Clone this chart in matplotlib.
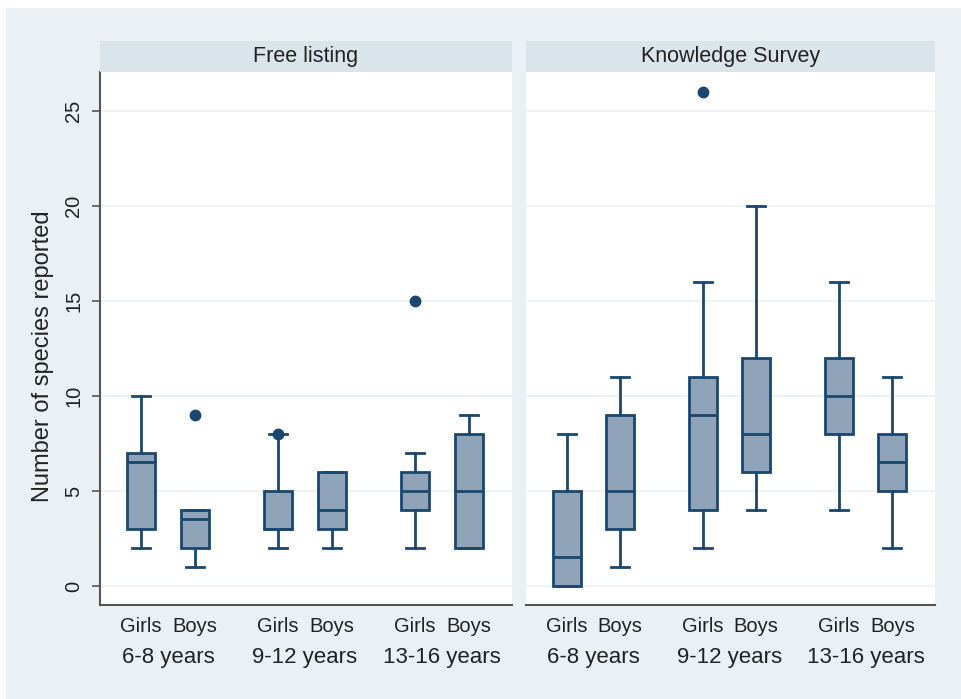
import matplotlib
matplotlib.use("Agg")
import matplotlib.pyplot as plt
from matplotlib.patches import Rectangle
from matplotlib.transforms import blended_transform_factory

plt.rcParams['font.family'] = ['Liberation Sans', 'DejaVu Sans']

panels = ["Free listing", "Knowledge Survey"]
age_groups = ["6-8 years", "9-12 years", "13-16 years"]
sexes = ["Girls", "Boys"]

# Order per panel: Girls 6-8, Boys 6-8, Girls 9-12, Boys 9-12, Girls 13-16, Boys 13-16
free_whislo = [2, 1, 2, 2, 2, 2]
free_q1 = [3, 2, 3, 3, 4, 2]
free_med = [6.5, 3.5, 3, 4, 5, 5]
free_q3 = [7, 4, 5, 6, 6, 8]
free_whishi = [10, 4, 8, 6, 7, 9]
free_fliers = [[], [9], [8], [], [15], []]

know_whislo = [0, 1, 2, 4, 4, 2]
know_q1 = [0, 3, 4, 6, 8, 5]
know_med = [1.5, 5, 9, 8, 10, 6.5]
know_q3 = [5, 9, 11, 12, 12, 8]
know_whishi = [8, 11, 16, 20, 16, 11]
know_fliers = [[], [], [26], [], [], []]

y_ticks = [0, 5, 10, 15, 20, 25]
y_label = "Number of species reported"

edge = "#1A476F"
fill = "#8FA4B8"
bg = "#EAF0F3"
strip = "#D9E4EB"
grid = "#EAF2F3"

W, H = 962, 699
fig = plt.figure(figsize=(W / 100, H / 100), dpi=100)
fig.patch.set_facecolor("white")
fig.patches.append(Rectangle((6 / W, 0), 1 - 6 / W, 1 - 8 / H, transform=fig.transFigure,
                             facecolor=bg, edgecolor="none", zorder=-10))

ax_top = 72
ax_bot = 605
ax_boxes = [(100, 512), (526, 935)]
gap = 137 / 54
pos = []
for g in range(3):
    for s in range(2):
        pos.append(g * gap + s)

data = [
    (free_whislo, free_q1, free_med, free_q3, free_whishi, free_fliers),
    (know_whislo, know_q1, know_med, know_q3, know_whishi, know_fliers),
]

for i, (x0, x1) in enumerate(ax_boxes):
    ax = fig.add_axes([x0 / W, 1 - ax_bot / H, (x1 - x0) / W, (ax_bot - ax_top) / H])
    ax.set_facecolor("white")
    wl, q1, md, q3, wh, fl = data[i]
    stats = []
    for k in range(6):
        stats.append(dict(whislo=wl[k], q1=q1[k], med=md[k], q3=q3[k], whishi=wh[k], fliers=fl[k]))
    ax.bxp(stats, positions=pos, widths=0.52, patch_artist=True, showfliers=True,
           boxprops=dict(facecolor=fill, edgecolor=edge, linewidth=2),
           medianprops=dict(color=edge, linewidth=2),
           whiskerprops=dict(color=edge, linewidth=2),
           capprops=dict(color=edge, linewidth=2),
           capwidths=0.34,
           flierprops=dict(marker="o", markerfacecolor=edge, markeredgecolor=edge, markersize=7.5))
    ax.set_ylim(-1.0, 27.05)
    ax.set_xlim(-41 / 54, pos[-1] + 43 / 54)
    ax.set_yticks(y_ticks)
    ax.yaxis.grid(True, color=grid, linewidth=1.2)
    ax.set_axisbelow(True)
    ax.set_xticks(pos)
    ax.set_xticklabels(sexes * 3, fontsize=14.5)
    ax.tick_params(axis="x", length=0, pad=9, colors="#222222")
    for sp in ["top", "right"]:
        ax.spines[sp].set_visible(False)
    ax.spines["bottom"].set_color("#555555")
    ax.spines["bottom"].set_linewidth(1.5)
    if i == 0:
        ax.spines["left"].set_color("#555555")
        ax.spines["left"].set_linewidth(1.5)
        ax.set_yticklabels([str(t) for t in y_ticks], rotation=90, va="center", fontsize=14.5)
        ax.tick_params(axis="y", length=6, color="#555555", width=1.2, pad=6, labelcolor="#222222")
        ax.set_ylabel(y_label, fontsize=17, color="#222222", va="center")
        ax.yaxis.set_label_coords(-57 / (x1 - x0), (ax_bot - 356) / (ax_bot - ax_top))
    else:
        ax.spines["left"].set_visible(False)
        ax.tick_params(axis="y", length=0, labelleft=False)
    tr = blended_transform_factory(ax.transData, ax.transAxes)
    for g in range(3):
        ax.text(g * gap + 0.5, -52 / (ax_bot - ax_top), age_groups[g], transform=tr,
                ha="center", va="center", fontsize=16, color="#222222")
    # strip title
    sax = fig.add_axes([x0 / W, 1 - 72 / H, (x1 - x0) / W, 31 / H])
    sax.set_facecolor(strip)
    sax.set_xticks([]); sax.set_yticks([])
    for sp in sax.spines.values():
        sp.set_visible(False)
    sax.text(0.5, 0.5, panels[i], ha="center", va="center", fontsize=15.5, color="#222222",
             transform=sax.transAxes)

fig.savefig("out.png", dpi=100)
